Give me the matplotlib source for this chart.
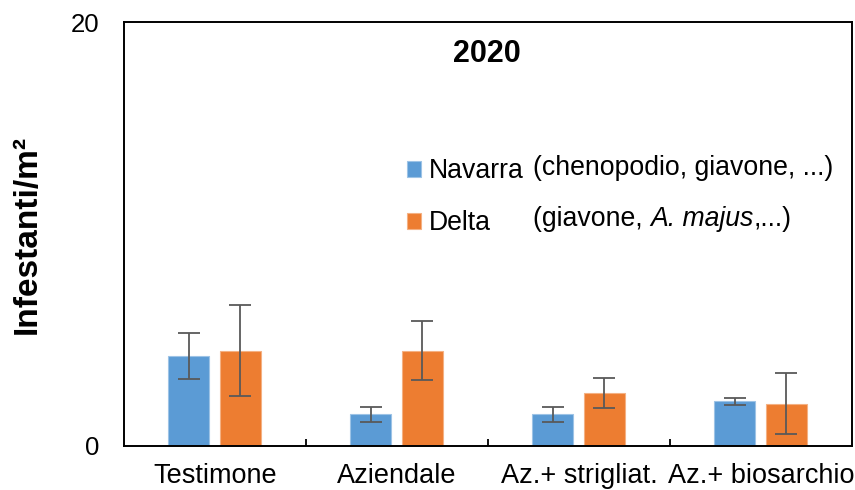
import matplotlib

matplotlib.use("Agg")
import matplotlib.pyplot as plt
import numpy as np

plt.rcParams["font.family"] = ["Liberation Sans", "DejaVu Sans"]

categories = ["Testimone", "Aziendale", "Az.+ strigliat.", "Az.+ biosarchio"]
navarra = [4.25, 1.5, 1.5, 2.1]
navarra_err = [1.07, 0.35, 0.35, 0.18]
delta = [4.5, 4.5, 2.5, 2.0]
delta_err = [2.13, 1.4, 0.7, 1.42]
y_ticks = [0, 20]

blue = "#5B9BD5"
orange = "#ED7D31"
err_kw = dict(ecolor="#595959", elinewidth=1.3, capsize=8, capthick=1.3)

fig = plt.figure(figsize=(8.55, 4.9), dpi=100)
ax = fig.add_axes([0.145, 0.09, 0.8515, 0.865])

x = np.arange(len(categories))
w = 0.225
ax.bar(x - 0.145, navarra, w, yerr=navarra_err, color=blue, edgecolor="#9DC3E6",
       linewidth=0.8, error_kw=err_kw, label="Navarra", zorder=2)
ax.bar(x + 0.14, delta, w, yerr=delta_err, color=orange, edgecolor="#F4B183",
       linewidth=0.8, error_kw=err_kw, label="Delta", zorder=2)

ax.set_xlim(-0.5, len(categories) - 0.5)
ax.set_ylim(0, 20)
ax.set_yticks(y_ticks)
ax.set_xticks(x)
ax.set_xticklabels(categories, fontsize=19.5)
ax.set_xticks(np.arange(0.5, len(categories) - 0.5, 1), minor=True)
ax.tick_params(axis="x", which="major", length=0, pad=12)
ax.tick_params(axis="x", which="minor", direction="in", length=5, width=1.3)
ax.tick_params(axis="y", length=0, pad=18, labelsize=18.5)
for s in ax.spines.values():
    s.set_linewidth(1.4)

ax.set_ylabel("Infestanti/m²", fontsize=24, fontweight="bold", labelpad=20)
ax.text(0.498, 0.925, "2020", transform=ax.transAxes, ha="center", va="center",
        fontsize=22, fontweight="bold")

leg = ax.legend(loc="upper left", bbox_to_anchor=(0.370, 0.71), frameon=False,
                fontsize=19.2, handlelength=0.55, handleheight=0.55,
                handletextpad=0.3, labelspacing=0.97, borderpad=0)
ax.text(0.562, 0.656, "(chenopodio, giavone, ...)", transform=ax.transAxes,
        ha="left", va="center", fontsize=19.2)

# second description, with the species name in italics
t1 = ax.text(0.562, 0.536, "(giavone, ", transform=ax.transAxes,
             ha="left", va="center", fontsize=19.2)
t2 = ax.annotate("A. majus", xy=(1, 0), xycoords=t1, ha="left", va="bottom",
                 fontsize=19.2, fontstyle="italic")
ax.annotate(",...)", xy=(1, 0), xycoords=t2, ha="left", va="bottom", fontsize=19.2)

fig.savefig("out.png", dpi=100)
